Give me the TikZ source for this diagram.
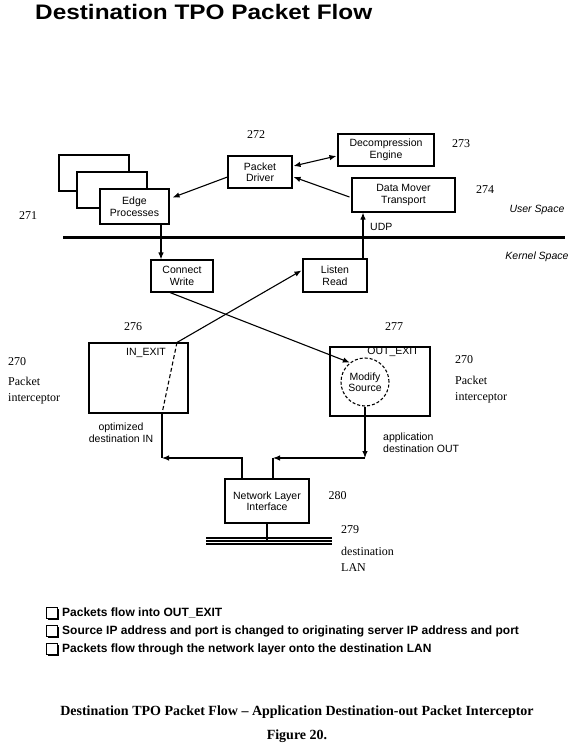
\documentclass[tikz,border=0pt]{standalone}
\usepackage{fontspec}
\setmainfont{Liberation Serif}
\setsansfont{Liberation Sans}
\usetikzlibrary{arrows.meta,calc}
\newcommand\bxf{\sffamily\fontsize{10.5}{11.5}\selectfont}
\newcommand\numf{\rmfamily\fontsize{12}{15.5}\selectfont}
\newcommand\lgf{\sffamily\bfseries\fontsize{12}{14}\selectfont}
\newcommand\capf{\rmfamily\bfseries\fontsize{14}{16}\selectfont}
\begin{document}
\begin{tikzpicture}[x=1pt,y=-1pt,
  box/.style={draw, line width=1.1pt, fill=white, inner sep=0pt, align=center, font=\bxf},
  lbl/.style={inner sep=0pt, font=\bxf, align=center},
  num/.style={inner sep=0pt, font=\numf},
  arr/.style={line width=1.1pt, -{Latex[length=7pt,width=5.5pt]}},
  ln/.style={line width=1.1pt}]
\useasboundingbox (0,0) rectangle (576,746);
% title
\node[anchor=base west, inner sep=0pt, font=\sffamily\bfseries\fontsize{21}{24}\selectfont] (title) at (35,20) {\scalebox{1.16}[1]{Destination TPO Packet Flow}};
% boxes
\node[box, minimum width=70pt, minimum height=36pt] (bb1) at (94,173) {};
\node[box, minimum width=70pt, minimum height=36pt] (bb2) at (112,190) {};
\node[box, minimum width=69pt, minimum height=35pt] (edge) at (134.5,206.5) {Edge\\Processes};
\node[box, minimum width=64pt, minimum height=32pt] (pd) at (260,172) {Packet\\Driver};
\node[box, minimum width=96pt, minimum height=32pt] (de) at (386,150) {Decompression\\Engine};
\node[box, minimum width=103pt, minimum height=34pt] (dm) at (403.5,195) {Data Mover\\Transport};
\node[box, minimum width=62pt, minimum height=32pt] (cw) at (182,276) {Connect\\Write};
\node[box, minimum width=64pt, minimum height=33pt] (lr) at (335,275.5) {Listen\\Read};
\node[box, minimum width=99pt, minimum height=70pt] (inx) at (138.5,378) {};
\node[box, minimum width=100pt, minimum height=69pt] (outx) at (380,381.5) {};
\node[circle, draw, line width=1.1pt, dash pattern=on 3pt off 2pt, minimum size=48pt, inner sep=0pt, font=\bxf, align=center] (ms) at (365,382) {Modify\\Source};
\node[box, minimum width=84pt, minimum height=44pt] (nl) at (267,501) {Network Layer\\Interface};
% numbers and labels
\node[num] (n272) at (256,135) {272};
\node[num] (n273) at (461,144) {273};
\node[num] (n274) at (485,190) {274};
\node[num] (n271) at (28,216) {271};
\node[num] (n276) at (133,327) {276};
\node[num] (n277) at (394,327) {277};
\node[num, anchor=west] (n270a) at (8,362) {270};
\node[num, anchor=west, align=left] (pia) at (8,390.5) {Packet\\interceptor};
\node[num, anchor=west] (n270b) at (455,360) {270};
\node[num, anchor=west, align=left] (pib) at (455,389.5) {Packet\\interceptor};
\node[lbl, font=\bxf\itshape] (us) at (537,210) {User Space};
\node[lbl, font=\bxf\itshape] (ks) at (537,257) {Kernel Space};
\node[lbl, anchor=west] (udp) at (370,227) {UDP};
\node[lbl] (inl) at (146,353) {IN\_EXIT};
\node[lbl] (outl) at (393,352) {OUT\_EXIT};
\node[lbl] (optl) at (121,432.5) {optimized\\destination IN};
\node[lbl, anchor=west, align=left] (appl) at (383,442.5) {application\\destination OUT};
\node[num] (n280) at (337.5,496) {280};
\node[num] (n279) at (350,530) {279};
\node[num, anchor=west, align=left] (lanl) at (341,559.5) {destination\\LAN};
% kernel/user divider
\draw[line width=3pt] (63,237) -- (565,237);
% LAN
\foreach \yy in {538,541,544} \draw[line width=1.1pt] (206,\yy) -- (332,\yy);
\coordinate (lanmid) at (269,541);
% connectors
\coordinate (xa) at (161,0);
\draw[arr] (edge.south -| xa) -- (cw.north -| xa);
\draw[arr] ($(pd.west)+(0,5)$) -- ($(edge.east)+(3,-9)$);
\draw[arr] ($(dm.west)+(-2,2)$) -- ($(pd.east)+(1,5)$);
\draw[ln, {Latex[length=7pt,width=5.5pt]}-{Latex[length=7pt,width=5.5pt]}] ($(pd.east)+(1,-6)$) -- ($(de.west)+(-1,6)$);
\coordinate (xb) at (363,0);
\draw[arr] (lr.north -| xb) -- (dm.south -| xb);
\draw[arr] ($(cw.south)+(-12,0)$) -- (ms.128);
\coordinate (din) at ($(inx.north)+(38.5,0)$);
\draw[arr] (din) -- ($(lr.west)+(-1,-5)$);
\draw[ln, dash pattern=on 4pt off 2.5pt] (din) -- ($(inx.south)+(23.5,0)$);
\coordinate (jl) at (162,458);
\coordinate (jr) at (273,458);
\coordinate (xc) at (242,458);
\draw[ln] (inx.south -| jl) -- (jl);
\draw[arr] (nl.north -| xc) -- (xc) -- (jl);
\draw[arr] (ms.south) -- (ms.south |- jr);
\draw[arr] (ms.south |- jr) -- (jr);
\draw[ln] (jr) -- (nl.north -| jr);
\draw[ln] (nl.south) -- (nl.south |- lanmid);
% legend
\node[anchor=west, font=\lgf, inner sep=0pt] (l1) at (62,613) {Packets flow into OUT\_EXIT};
\node[anchor=west, font=\lgf, inner sep=0pt] (l2) at (62,631) {Source IP address and port is changed to originating server IP address and port};
\node[anchor=west, font=\lgf, inner sep=0pt] (l3) at (62,649) {Packets flow through the network layer onto the destination LAN};
\foreach \l in {l1,l2,l3} {
  \draw[line width=0.8pt] ($(\l.west)+(-16,-5.5)$) rectangle ++(11,11);
  \draw[line width=1.5pt] ($(\l.west)+(-4,-4)$) -- ++(0,10.5) -- ++(-10.5,0);
}
% caption
\node[font=\capf, inner sep=0pt] (cap) at (297,712) {Destination TPO Packet Flow – Application Destination-out Packet Interceptor};
\node[font=\capf, inner sep=0pt] (fig) at (297,736) {Figure 20.};
\end{tikzpicture}
\end{document}
